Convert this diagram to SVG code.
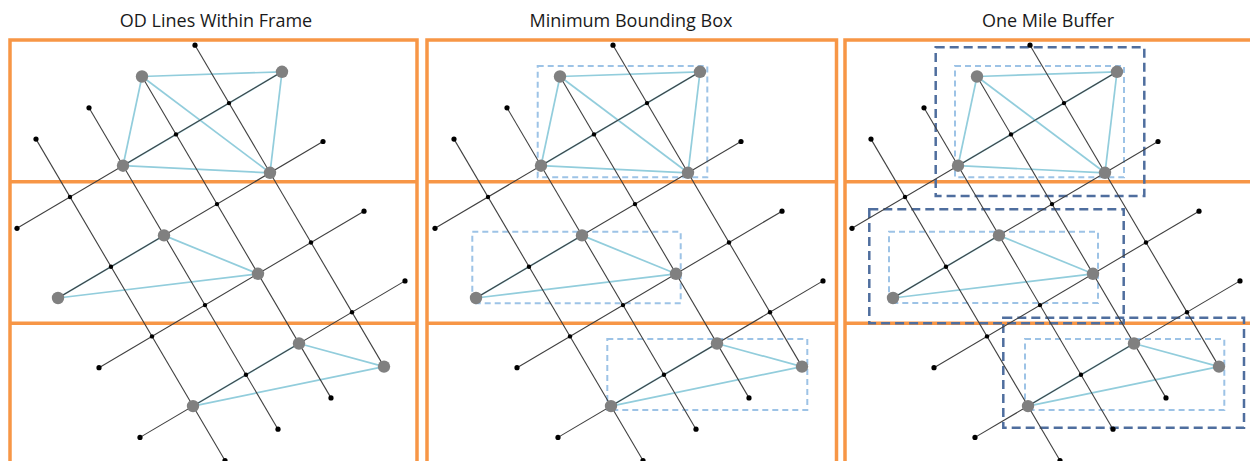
<svg xmlns="http://www.w3.org/2000/svg" xmlns:xlink="http://www.w3.org/1999/xlink" width="1250" height="461" viewBox="0 0 1250 461">
<style>
.title{font-family:"Open Sans","Liberation Sans",sans-serif;font-size:18px;fill:#1a1a1a;text-anchor:middle}
.frame{fill:none;stroke:#F79646;stroke-width:3.5}
.road{stroke:#404040;stroke-width:1.1;fill:none}
.od{stroke:#92CDDC;stroke-width:1.7;fill:none}
.end{fill:#000}
.ix{fill:#000}
.node{fill:#808080}
.mbb{fill:none;stroke:#9DC3E6;stroke-width:2;stroke-dasharray:6 4}
.buf{fill:none;stroke:#4F6E9E;stroke-width:2.5;stroke-dasharray:9 5}
</style>
<rect width="1250" height="461" fill="#fff"/>

<g id="titles">
<text class="title" x="216" y="26.5">OD Lines Within Frame</text>
<text class="title" x="631" y="26.5">Minimum Bounding Box</text>
<text class="title" x="1048" y="26.5">One Mile Buffer</text>
</g>

<g id="frames">
<rect class="frame" x="10" y="40" width="407" height="460"/>
<line class="frame" x1="10" y1="181.7" x2="417" y2="181.7"/>
<line class="frame" x1="10" y1="323.3" x2="417" y2="323.3"/>
<rect class="frame" x="427" y="40" width="409.5" height="460"/>
<line class="frame" x1="427" y1="181.7" x2="836.5" y2="181.7"/>
<line class="frame" x1="427" y1="323.3" x2="836.5" y2="323.3"/>
<rect class="frame" x="845" y="40" width="500" height="460"/>
<line class="frame" x1="845" y1="181.7" x2="1260" y2="181.7"/>
<line class="frame" x1="845" y1="323.3" x2="1260" y2="323.3"/>
</g>

<g id="boxes">
<g id="mbb-panel2" transform="translate(418,0)">
<rect class="mbb" x="119.7" y="66" width="169.6" height="111.3"/>
<rect class="mbb" x="54.3" y="231.7" width="208.4" height="71.6"/>
<rect class="mbb" x="189.3" y="339" width="200" height="71"/>
</g>
<g id="mbb-panel3" transform="translate(835,0)">
<rect class="mbb" x="120" y="66" width="169" height="111.3"/>
<rect class="mbb" x="54" y="231.7" width="209" height="71.3"/>
<rect class="mbb" x="190" y="339" width="199.3" height="71"/>
</g>
<g id="buffer-panel3" transform="translate(835,0)">
<rect class="buf" x="100.7" y="47.3" width="208.6" height="148.7"/>
<rect class="buf" x="34.3" y="209.3" width="254.4" height="114"/>
<rect class="buf" x="168.3" y="317.7" width="240.7" height="110"/>
</g>
</g>

<g id="connectors">
<g id="od-panel1">
<line class="od" x1="142" y1="76.5" x2="282" y2="71.8"/>
<line class="od" x1="142" y1="76.5" x2="123" y2="165.7"/>
<line class="od" x1="142" y1="76.5" x2="270" y2="172.8"/>
<line class="od" x1="282" y1="71.8" x2="123" y2="165.7"/>
<line class="od" x1="282" y1="71.8" x2="270" y2="172.8"/>
<line class="od" x1="123" y1="165.7" x2="270" y2="172.8"/>
<line class="od" x1="164" y1="235.4" x2="258" y2="273.8"/>
<line class="od" x1="164" y1="235.4" x2="58" y2="298"/>
<line class="od" x1="58" y1="298" x2="258" y2="273.8"/>
<line class="od" x1="299" y1="343.5" x2="384" y2="366.6"/>
<line class="od" x1="299" y1="343.5" x2="193" y2="406.1"/>
<line class="od" x1="193" y1="406.1" x2="384" y2="366.6"/>
</g>
<use xlink:href="#od-panel1" href="#od-panel1" transform="translate(418,0)"/>
<use xlink:href="#od-panel1" href="#od-panel1" transform="translate(835,0)"/>
<g id="roads-panel1">
<line class="road" x1="36" y1="139.1" x2="225" y2="460.5"/>
<line class="road" x1="89" y1="107.8" x2="278" y2="429.2"/>
<line class="road" x1="142" y1="76.5" x2="331" y2="397.9"/>
<line class="road" x1="195" y1="45.2" x2="384" y2="366.6"/>
<line class="road" x1="17" y1="228.3" x2="282" y2="71.8"/>
<line class="road" x1="58" y1="298" x2="323" y2="141.5"/>
<line class="road" x1="99" y1="367.7" x2="364" y2="211.2"/>
<line class="road" x1="140" y1="437.4" x2="405" y2="280.9"/>
</g>
<use xlink:href="#roads-panel1" href="#roads-panel1" transform="translate(418,0)"/>
<use xlink:href="#roads-panel1" href="#roads-panel1" transform="translate(835,0)"/>
</g>

<g id="points-panel1">
<g id="endpoints">
<circle class="end" cx="36" cy="139.1" r="2.6"/>
<circle class="end" cx="225" cy="460.5" r="2.6"/>
<circle class="end" cx="89" cy="107.8" r="2.6"/>
<circle class="end" cx="278" cy="429.2" r="2.6"/>
<circle class="end" cx="331" cy="397.9" r="2.6"/>
<circle class="end" cx="195" cy="45.2" r="2.6"/>
<circle class="end" cx="17" cy="228.3" r="2.6"/>
<circle class="end" cx="323" cy="141.5" r="2.6"/>
<circle class="end" cx="99" cy="367.7" r="2.6"/>
<circle class="end" cx="364" cy="211.2" r="2.6"/>
<circle class="end" cx="140" cy="437.4" r="2.6"/>
<circle class="end" cx="405" cy="280.9" r="2.6"/>
</g>
<g id="intersections">
<circle class="ix" cx="70" cy="197" r="2.2"/>
<circle class="ix" cx="176" cy="134.4" r="2.2"/>
<circle class="ix" cx="229" cy="103.1" r="2.2"/>
<circle class="ix" cx="111" cy="266.7" r="2.2"/>
<circle class="ix" cx="217" cy="204.1" r="2.2"/>
<circle class="ix" cx="152" cy="336.4" r="2.2"/>
<circle class="ix" cx="205" cy="305.1" r="2.2"/>
<circle class="ix" cx="311" cy="242.5" r="2.2"/>
<circle class="ix" cx="246" cy="374.8" r="2.2"/>
<circle class="ix" cx="352" cy="312.2" r="2.2"/>
</g>
<g id="node-t1"><circle class="node" cx="142" cy="76.5" r="6.2"/></g>
<g id="node-t2"><circle class="node" cx="282" cy="71.8" r="6.2"/></g>
<g id="node-t3"><circle class="node" cx="123" cy="165.7" r="6.2"/></g>
<g id="node-t4"><circle class="node" cx="270" cy="172.8" r="6.2"/></g>
<g id="node-m1"><circle class="node" cx="164" cy="235.4" r="6.2"/></g>
<g id="node-m2"><circle class="node" cx="258" cy="273.8" r="6.2"/></g>
<g id="node-m3"><circle class="node" cx="58" cy="298" r="6.2"/></g>
<g id="node-b1"><circle class="node" cx="299" cy="343.5" r="6.2"/></g>
<g id="node-b2"><circle class="node" cx="384" cy="366.6" r="6.2"/></g>
<g id="node-b3"><circle class="node" cx="193" cy="406.1" r="6.2"/></g>
</g>
<use xlink:href="#points-panel1" href="#points-panel1" transform="translate(418,0)"/>
<use xlink:href="#points-panel1" href="#points-panel1" transform="translate(835,0)"/>
</svg>
